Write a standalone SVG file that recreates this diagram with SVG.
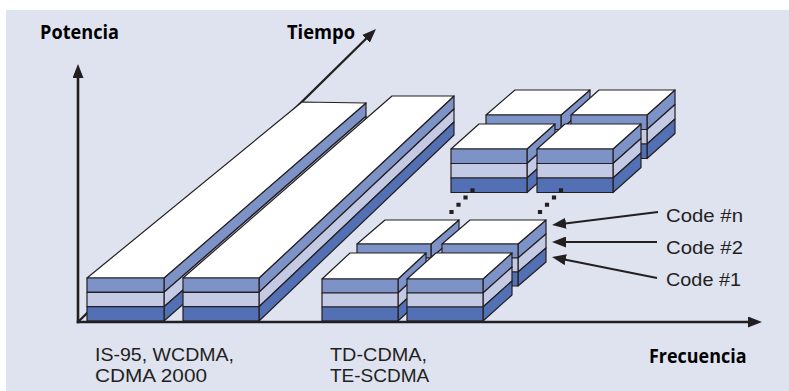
<svg xmlns="http://www.w3.org/2000/svg" width="789" height="391" viewBox="0 0 789 391">
  <defs>
    <style>
      .bg { fill: #dfe3f0; }
      .face { stroke: #231f20; stroke-width: 1.2; stroke-linejoin: round; }
      .top { fill: #ffffff; }
      .m { fill: #7d93c8; }
      .l { fill: #c5cae4; }
      .d { fill: #5270b3; }
      .axis { stroke: #231f20; stroke-width: 2.6; fill: none; }
      .taxis { stroke: #231f20; stroke-width: 2.3; fill: none; }
      .ptr { stroke: #231f20; stroke-width: 2; fill: none; }
      .dots { stroke: #231f20; stroke-width: 4.2; stroke-linecap: square; stroke-dasharray: 0 10.08; fill: none; }
      .lbl { font-family: "Liberation Sans", Arial, sans-serif; font-size: 19px; fill: #231f20; }
      .bold { font-family: "Open Sans", "Liberation Sans", sans-serif; font-size: 20px; font-weight: bold; }
    </style>
    <marker id="head" viewBox="0 0 14 11" refX="9" refY="5.5" markerWidth="14" markerHeight="11" markerUnits="userSpaceOnUse" orient="auto">
      <path d="M0,0 L14,5.5 L0,11 Z" fill="#231f20"/>
    </marker>
  </defs>

  <!-- panel background -->
  <rect x="0" y="0" width="789" height="391" fill="#ffffff"/>
  <rect class="bg" x="6" y="10" width="783" height="381"/>

  <!-- time axis runs behind the long bars -->
  <g id="time-axis">
    <line class="taxis" x1="78" y1="322" x2="372.4" y2="32.5" marker-end="url(#head)"/>
  </g>

  <!-- long bar: IS-95 / WCDMA / CDMA 2000 -->
  <g id="bar-1" class="face">
    <polygon class="m" points="164,278 366,103 366,116.3 164,292.3"/>
    <polygon class="l" points="164,292.3 366,116.3 366,129.7 164,306.7"/>
    <polygon class="d" points="164,306.7 366,129.7 366,143 164,321"/>
    <polygon class="top" points="87,278 164,278 366,103 302,102"/>
    <rect class="m" x="87" y="278" width="77" height="14.3"/>
    <rect class="l" x="87" y="292.3" width="77" height="14.4"/>
    <rect class="d" x="87" y="306.7" width="77" height="14.3"/>
  </g>

  <g id="bar-2" class="face">
    <polygon class="m" points="259,278 454,96 454,109 259,292.3"/>
    <polygon class="l" points="259,292.3 454,109 454,122 259,306.7"/>
    <polygon class="d" points="259,306.7 454,122 454,135 259,321"/>
    <polygon class="top" points="183,278 259,278 454,96 392,96"/>
    <rect class="m" x="183" y="278" width="76" height="14.3"/>
    <rect class="l" x="183" y="292.3" width="76" height="14.4"/>
    <rect class="d" x="183" y="306.7" width="76" height="14.3"/>
  </g>

  <!-- upper block set (later time slots) -->
  <g id="cube-upper-back-left" class="face">
    <polygon class="m" points="561,115 590,90 590,104.5 561,129.5"/>
    <polygon class="l" points="561,129.5 590,104.5 590,119 561,144"/>
    <polygon class="d" points="561,144 590,119 590,133.5 561,158.5"/>
    <polygon class="top" points="486,115 561,115 590,90 515,90"/>
    <rect class="m" x="486" y="115" width="75" height="14.5"/>
    <rect class="l" x="486" y="129.5" width="75" height="14.5"/>
    <rect class="d" x="486" y="144" width="75" height="14.5"/>
  </g>
  <g id="cube-upper-back-right" class="face">
    <polygon class="m" points="647,115 675,90 675,104.5 647,129.5"/>
    <polygon class="l" points="647,129.5 675,104.5 675,119 647,144"/>
    <polygon class="d" points="647,144 675,119 675,133.5 647,158.5"/>
    <polygon class="top" points="571,115 647,115 675,90 599,90"/>
    <rect class="m" x="571" y="115" width="76" height="14.5"/>
    <rect class="l" x="571" y="129.5" width="76" height="14.5"/>
    <rect class="d" x="571" y="144" width="76" height="14.5"/>
  </g>
  <g id="cube-upper-front-left" class="face">
    <polygon class="m" points="527,149 555,124 555,138.5 527,163.5"/>
    <polygon class="l" points="527,163.5 555,138.5 555,153 527,178"/>
    <polygon class="d" points="527,178 555,153 555,167.5 527,192.5"/>
    <polygon class="top" points="451,149 527,149 555,124 479,124"/>
    <rect class="m" x="451" y="149" width="76" height="14.5"/>
    <rect class="l" x="451" y="163.5" width="76" height="14.5"/>
    <rect class="d" x="451" y="178" width="76" height="14.5"/>
  </g>
  <g id="cube-upper-front-right" class="face">
    <polygon class="m" points="613,149 641,124 641,138.5 613,163.5"/>
    <polygon class="l" points="613,163.5 641,138.5 641,153 613,178"/>
    <polygon class="d" points="613,178 641,153 641,167.5 613,192.5"/>
    <polygon class="top" points="537,149 613,149 641,124 565,124"/>
    <rect class="m" x="537" y="149" width="76" height="14.5"/>
    <rect class="l" x="537" y="163.5" width="76" height="14.5"/>
    <rect class="d" x="537" y="178" width="76" height="14.5"/>
  </g>

  <!-- lower block set: TD-CDMA / TE-SCDMA -->
  <g id="cube-lower-back-left" class="face">
    <polygon class="m" points="431,244 459,220 459,234 431,258"/>
    <polygon class="l" points="431,258 459,234 459,248 431,272"/>
    <polygon class="d" points="431,272 459,248 459,262 431,286"/>
    <polygon class="top" points="357,244 431,244 459,220 385,220"/>
    <rect class="m" x="357" y="244" width="74" height="14"/>
    <rect class="l" x="357" y="258" width="74" height="14"/>
    <rect class="d" x="357" y="272" width="74" height="14"/>
  </g>
  <g id="cube-lower-back-right" class="face">
    <polygon class="m" points="518,244 546,220 546,234 518,258"/>
    <polygon class="l" points="518,258 546,234 546,248 518,272"/>
    <polygon class="d" points="518,272 546,248 546,262 518,286"/>
    <polygon class="top" points="442,244 518,244 546,220 470,220"/>
    <rect class="m" x="442" y="244" width="76" height="14"/>
    <rect class="l" x="442" y="258" width="76" height="14"/>
    <rect class="d" x="442" y="272" width="76" height="14"/>
  </g>
  <g id="cube-lower-front-left" class="face">
    <polygon class="m" points="398,279 426,253 426,267 398,293"/>
    <polygon class="l" points="398,293 426,267 426,281 398,307"/>
    <polygon class="d" points="398,307 426,281 426,295 398,321"/>
    <polygon class="top" points="322,279 398,279 426,253 350,253"/>
    <rect class="m" x="322" y="279" width="76" height="14"/>
    <rect class="l" x="322" y="293" width="76" height="14"/>
    <rect class="d" x="322" y="307" width="76" height="14"/>
  </g>
  <g id="cube-lower-front-right" class="face">
    <polygon class="m" points="483,279 512,253 512,267 483,293"/>
    <polygon class="l" points="483,293 512,267 512,281 483,307"/>
    <polygon class="d" points="483,307 512,281 512,295 483,321"/>
    <polygon class="top" points="407,279 483,279 512,253 436,253"/>
    <rect class="m" x="407" y="279" width="76" height="14"/>
    <rect class="l" x="407" y="293" width="76" height="14"/>
    <rect class="d" x="407" y="307" width="76" height="14"/>
  </g>

  <!-- connectors: continuation dots and code pointers -->
  <g id="connectors">
    <line class="dots" x1="451.5" y1="212" x2="479.5" y2="183"/>
    <line class="dots" x1="540" y1="212" x2="568" y2="183"/>
    <line class="ptr" x1="658" y1="212" x2="557" y2="224.4" marker-end="url(#head)"/>
    <line class="ptr" x1="657" y1="242" x2="557" y2="242" marker-end="url(#head)"/>
    <line class="ptr" x1="657" y1="278" x2="556.9" y2="258" marker-end="url(#head)"/>
  </g>

  <!-- power and frequency axes -->
  <g id="axes">
    <line class="axis" x1="78" y1="323.3" x2="78" y2="69" marker-end="url(#head)"/>
    <line class="axis" x1="76.7" y1="322" x2="757" y2="322" marker-end="url(#head)"/>
  </g>

  <g id="labels">
    <text class="bold" x="40" y="39" textLength="79" lengthAdjust="spacingAndGlyphs">Potencia</text>
    <text class="bold" x="287" y="39" textLength="68" lengthAdjust="spacingAndGlyphs">Tiempo</text>
    <text class="bold" x="649" y="362.5" textLength="97.5" lengthAdjust="spacingAndGlyphs">Frecuencia</text>
    <text class="lbl" x="95" y="361" textLength="139" lengthAdjust="spacingAndGlyphs">IS-95, WCDMA,</text>
    <text class="lbl" x="95" y="382.4" textLength="112" lengthAdjust="spacingAndGlyphs">CDMA 2000</text>
    <text class="lbl" x="330" y="361" textLength="97" lengthAdjust="spacingAndGlyphs">TD-CDMA,</text>
    <text class="lbl" x="330" y="382.4">TE-SCDMA</text>
    <text class="lbl" x="666" y="222" textLength="77" lengthAdjust="spacingAndGlyphs">Code #n</text>
    <text class="lbl" x="666" y="254" textLength="77" lengthAdjust="spacingAndGlyphs">Code #2</text>
    <text class="lbl" x="666" y="286" textLength="75" lengthAdjust="spacingAndGlyphs">Code #1</text>
  </g>
</svg>
